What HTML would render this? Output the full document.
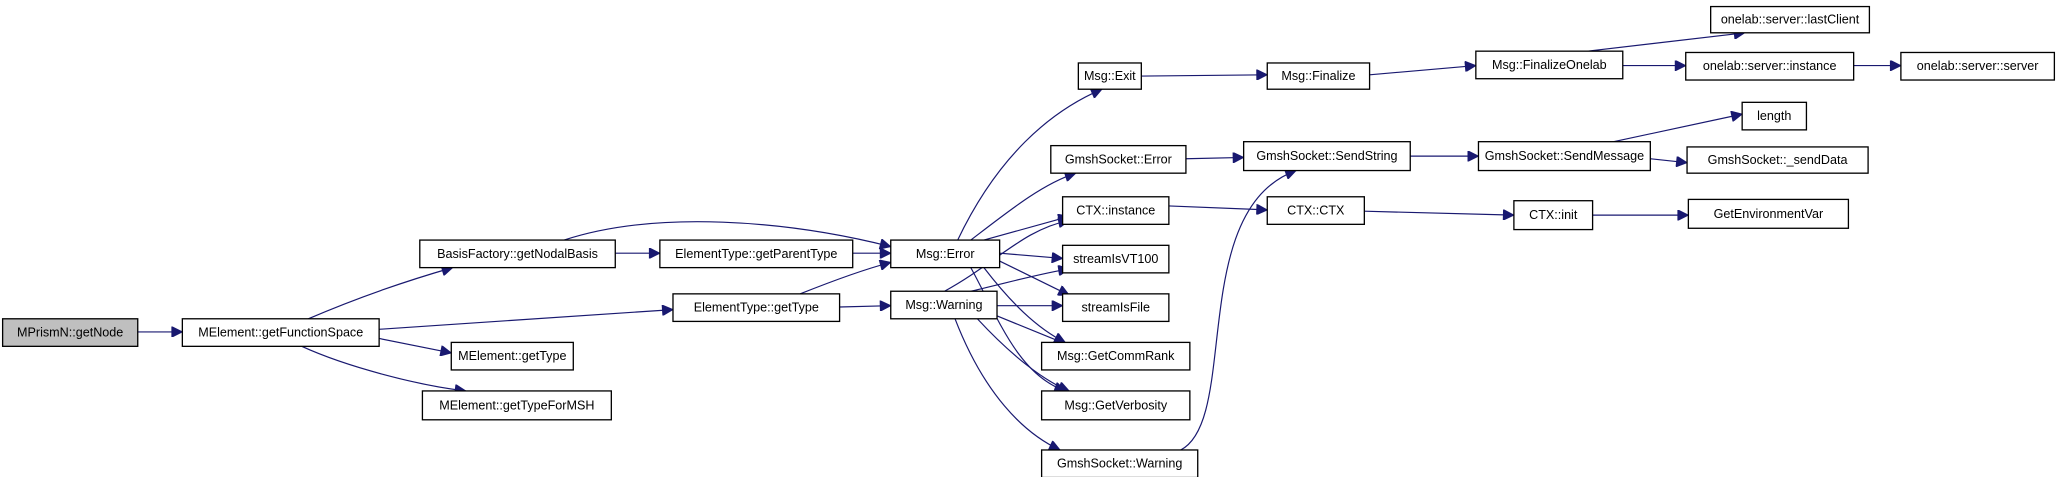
<!DOCTYPE html>
<html><head><meta charset="utf-8"><style>
html,body{margin:0;padding:0;background:#fff;width:2057px;height:477px;overflow:hidden}
svg{display:block}
text{font-family:"Liberation Sans",Arial,sans-serif;font-size:9.6px;fill:#000;text-anchor:middle;dominant-baseline:central}
rect{fill:#fff;stroke:#000;stroke-width:1}
path{fill:none;stroke:#191970;stroke-width:0.9}
</style></head><body>
<svg width="2057" height="477" viewBox="0 0 1568 363.6">
<defs><marker id="a" viewBox="0 0 10 10" refX="10" refY="5" markerWidth="11" markerHeight="8" markerUnits="userSpaceOnUse" orient="auto"><path d="M0,0 L10,5 L0,10 z" style="fill:#191970;stroke:#191970"/></marker></defs>
<g marker-end="url(#a)">
<path d="M105,253 L139,253"/>
<path d="M235,243 C270,228 310,214 345,204"/>
<path d="M289,251 L513,236"/>
<path d="M289,258 L344,269"/>
<path d="M230,264 C265,280 320,294 355,298"/>
<path d="M469,193 L503,193"/>
<path d="M430,183 C500,160 600,168 679,188"/>
<path d="M650,193 L679,193"/>
<path d="M610,224 C640,212 660,205 679,200"/>
<path d="M640,234 L679,233"/>
<path d="M730,183 C760,120 800,85 840,68"/>
<path d="M740,183 C770,160 795,140 820,132"/>
<path d="M750,183 L815,165"/>
<path d="M762,193 L810,197"/>
<path d="M762,199 L815,225"/>
<path d="M750,204 C770,230 790,250 812,261"/>
<path d="M740,204 C760,240 775,285 812,298"/>
<path d="M720,222 C760,200 780,175 815,168"/>
<path d="M740,222 C770,215 795,208 815,205"/>
<path d="M760,233 L810,233"/>
<path d="M758,240 L812,262"/>
<path d="M745,243 C770,270 795,290 815,298"/>
<path d="M728,243 C750,300 780,330 808,343"/>
<path d="M900,343 C945,320 905,160 988,130"/>
<path d="M870,58 L966,57"/>
<path d="M1044,57 L1125,50"/>
<path d="M1210,39 L1330,25"/>
<path d="M1237,50 L1285,50"/>
<path d="M1413,50 L1449,50"/>
<path d="M904,121 L948,120"/>
<path d="M1075,119 L1127,119"/>
<path d="M1230,108 L1328,87"/>
<path d="M1258,121 L1286,124"/>
<path d="M891,157 L966,160"/>
<path d="M1040,161 L1154,164"/>
<path d="M1214,164 L1287,164"/>
</g>
<g>
<rect x="2" y="243" width="103" height="21" style="fill:#bfbfbf"/><text x="53.5" y="253.5">MPrismN::getNode</text>
<rect x="139" y="243" width="150" height="21"/><text x="214" y="253.5">MElement::getFunctionSpace</text>
<rect x="344" y="261" width="93" height="21"/><text x="390.5" y="271.5">MElement::getType</text>
<rect x="322" y="298" width="144" height="22"/><text x="394" y="309">MElement::getTypeForMSH</text>
<rect x="320" y="183" width="149" height="21"/><text x="394.5" y="193.5">BasisFactory::getNodalBasis</text>
<rect x="503" y="183" width="147" height="21"/><text x="576.5" y="193.5">ElementType::getParentType</text>
<rect x="513" y="224" width="127" height="21"/><text x="576.5" y="234.5">ElementType::getType</text>
<rect x="679" y="183" width="83" height="21"/><text x="720.5" y="193.5">Msg::Error</text>
<rect x="679" y="222" width="81" height="21"/><text x="719.5" y="232.5">Msg::Warning</text>
<rect x="822" y="48" width="48" height="20"/><text x="846" y="58">Msg::Exit</text>
<rect x="801" y="111" width="103" height="21"/><text x="852.5" y="121.5">GmshSocket::Error</text>
<rect x="810" y="150" width="81" height="21"/><text x="850.5" y="160.5">CTX::instance</text>
<rect x="810" y="187" width="81" height="21"/><text x="850.5" y="197.5">streamIsVT100</text>
<rect x="810" y="224" width="81" height="21"/><text x="850.5" y="234.5">streamIsFile</text>
<rect x="794" y="261" width="113" height="21"/><text x="850.5" y="271.5">Msg::GetCommRank</text>
<rect x="794" y="298" width="113" height="22"/><text x="850.5" y="309">Msg::GetVerbosity</text>
<rect x="794" y="343" width="119" height="21"/><text x="853.5" y="353.5">GmshSocket::Warning</text>
<rect x="966" y="48" width="78" height="20"/><text x="1005" y="58">Msg::Finalize</text>
<rect x="948" y="108" width="127" height="22"/><text x="1011.5" y="119">GmshSocket::SendString</text>
<rect x="966" y="150" width="74" height="21"/><text x="1003" y="160.5">CTX::CTX</text>
<rect x="1125" y="39" width="112" height="21"/><text x="1181" y="49.5">Msg::FinalizeOnelab</text>
<rect x="1127" y="108" width="131" height="22"/><text x="1192.5" y="119">GmshSocket::SendMessage</text>
<rect x="1154" y="153" width="60" height="22"/><text x="1184" y="164">CTX::init</text>
<rect x="1304" y="5" width="121" height="20"/><text x="1364.5" y="15">onelab::server::lastClient</text>
<rect x="1285" y="40" width="128" height="21"/><text x="1349" y="50.5">onelab::server::instance</text>
<rect x="1449" y="40" width="117" height="21"/><text x="1507.5" y="50.5">onelab::server::server</text>
<rect x="1328" y="78" width="49" height="21"/><text x="1352.5" y="88.5">length</text>
<rect x="1286" y="112" width="138" height="20"/><text x="1355" y="122">GmshSocket::_sendData</text>
<rect x="1287" y="152" width="122" height="22"/><text x="1348" y="163">GetEnvironmentVar</text>
</g>
</svg>
</body></html>
